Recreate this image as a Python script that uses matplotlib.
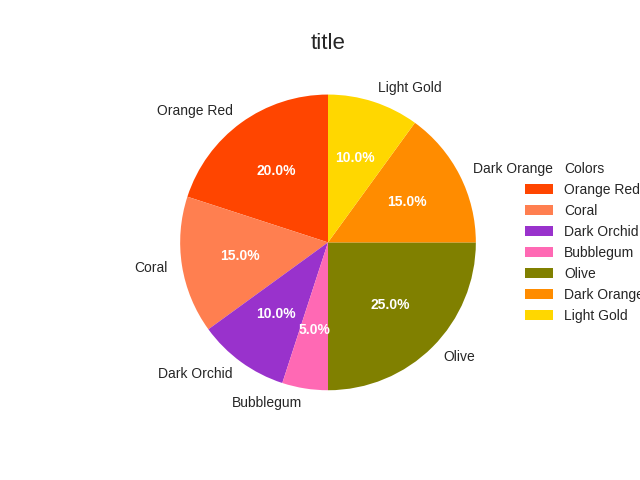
import matplotlib
matplotlib.use("Agg")
import matplotlib.pyplot as plt

plt.rcParams["font.family"] = ["Liberation Sans", "DejaVu Sans"]
plt.rcParams["text.color"] = "#262626"

# Data
labels = ["Orange Red", "Coral", "Dark Orchid", "Bubblegum", "Olive", "Dark Orange", "Light Gold"]
sizes = [20, 15, 10, 5, 25, 15, 10]
colors = ["#FF4500", "#FF7F50", "#9932CC", "#FF69B4", "#808000", "#FF8C00", "#FFD700"]

fig, ax = plt.subplots(figsize=(6.4, 4.8), dpi=100)
wedges, texts, autotexts = ax.pie(
    sizes, labels=labels, colors=colors, autopct="%1.1f%%", startangle=90,
    textprops={"fontsize": 10, "color": "#262626"},
)
for t in autotexts:
    t.set_color("white")
    t.set_fontweight("bold")

ax.set_aspect("equal", adjustable="box")
ax.set_title("title", fontsize=16)
ax.legend(wedges, labels, title="Colors", loc="center left",
          bbox_to_anchor=(1, 0, 0.5, 1), frameon=False)

plt.savefig("out.png")
